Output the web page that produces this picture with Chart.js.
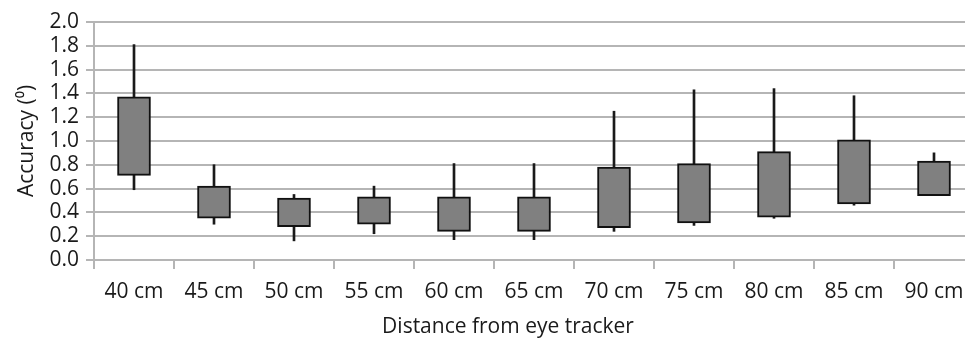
<!DOCTYPE html>
<html>
<head>
<meta charset="utf-8">
<script src="https://cdn.jsdelivr.net/npm/chart.js@4"></script>
<style>
    html, body { margin: 0; padding: 0; background: #fff; overflow: hidden; }
    #wrap { width: 1016px; height: 342px; }
</style>
</head>
<body>
<div id="wrap"><canvas id="myChart" width="1016" height="342"></canvas></div>
<script>
    // Distancias y valores de la caja (cuartiles) y bigotes
    const labels = ['40 cm', '45 cm', '50 cm', '55 cm', '60 cm', '65 cm', '70 cm', '75 cm', '80 cm', '85 cm', '90 cm'];
    const whiskerLow = [0.59, 0.30, 0.16, 0.22, 0.17, 0.17, 0.24, 0.29, 0.35, 0.46, 0.54];
    const boxLow = [0.71, 0.35, 0.28, 0.30, 0.24, 0.24, 0.27, 0.31, 0.36, 0.47, 0.54];
    const boxHigh = [1.37, 0.62, 0.52, 0.53, 0.53, 0.53, 0.78, 0.81, 0.91, 1.01, 0.83];
    const whiskerHigh = [1.81, 0.80, 0.55, 0.62, 0.81, 0.81, 1.25, 1.43, 1.44, 1.38, 0.90];
    const yTicks = [0, 0.2, 0.4, 0.6, 0.8, 1.0, 1.2, 1.4, 1.6, 1.8, 2.0];

    const font = { family: '"Open Sans", sans-serif', size: 21 };
    const gridColor = '#b5b5b5';
    const textColor = '#1a1a1a';

    const ctx = document.getElementById('myChart').getContext('2d');

    new Chart(ctx, {
        type: 'bar',
        data: {
            labels,
            datasets: [
                {
                    label: 'Whisker',
                    data: whiskerLow.map((v, i) => [v, whiskerHigh[i]]),
                    backgroundColor: '#1a1a1a',
                    borderWidth: 0,
                    barThickness: 2,
                    grouped: false,
                    order: 2
                },
                {
                    label: 'Box',
                    data: boxLow.map((v, i) => [v, boxHigh[i]]),
                    backgroundColor: '#808080',
                    borderColor: '#111',
                    borderWidth: 2,
                    borderSkipped: false,
                    barThickness: 33,
                    grouped: false,
                    order: 1
                }
            ]
        },
        options: {
            responsive: false,
            animation: false,
            layout: { padding: { top: 22, left: 0, right: 0, bottom: 0 } },
            plugins: {
                legend: { display: false },
                tooltip: { enabled: false },
                title: {
                    display: true,
                    position: 'bottom',
                    text: 'Distance from eye tracker',
                    color: textColor,
                    font: { ...font, weight: 'normal', lineHeight: 1.1 },
                    padding: { top: 0, bottom: 3 }
                }
            },
            scales: {
                x: {
                    offset: true,
                    grid: {
                        offset: true,
                        drawOnChartArea: false,
                        drawTicks: true,
                        tickLength: 9,
                        color: gridColor,
                        lineWidth: 2
                    },
                    border: { display: true, color: gridColor, width: 2 },
                    ticks: { color: textColor, font, padding: 11, maxRotation: 0, autoSkip: false },
                    afterFit: scale => { scale.height = 56; }
                },
                y: {
                    min: 0,
                    max: 2,
                    afterBuildTicks: scale => { scale.ticks = yTicks.map(v => ({ value: v })); },
                    ticks: {
                        color: textColor,
                        font,
                        padding: 7,
                        autoSkip: false,
                        callback: value => Number(value).toFixed(1)
                    },
                    grid: {
                        color: gridColor,
                        lineWidth: 2,
                        tickLength: 8
                    },
                    border: { display: true, color: gridColor, width: 2 },
                    title: {
                        display: true,
                        text: 'Accuracy (⁰)',
                        color: textColor,
                        font,
                        padding: { top: 14, bottom: 0 }
                    },
                    afterFit: scale => { scale.width = 94; }
                },
                y1: {
                    position: 'right',
                    display: true,
                    grid: { display: false },
                    border: { display: false },
                    ticks: { display: false },
                    afterFit: scale => { scale.width = 42; }
                }
            }
        }
    });
</script>
</body>
</html>
